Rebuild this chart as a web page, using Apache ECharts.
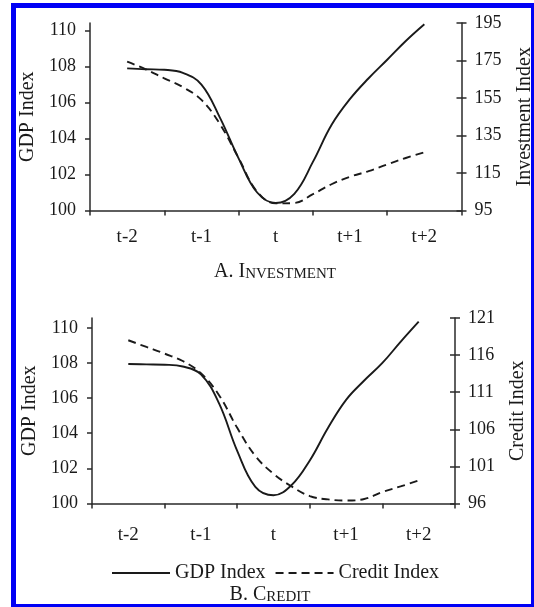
<!DOCTYPE html>
<html>
<head>
<meta charset="utf-8">
<script src="https://cdn.jsdelivr.net/npm/echarts@6/dist/echarts.min.js"></script>
<style>
    body { margin: 0; background: #fff; }
    #wrap { position: relative; width: 534px; height: 607px; }
    #chart { position: absolute; left: 0; top: 0; width: 534px; height: 607px; }
    #frame {
        position: absolute; left: 11px; top: 3px; width: 523px; height: 604px;
        box-sizing: border-box; border: solid #0000f5; border-width: 5px 3px 3px 5px;
        pointer-events: none;
    }
</style>
</head>
<body>
<div id="wrap">
    <div id="chart"></div>
    <div id="frame"></div>
</div>
<script>
const periods = [-2, -1.75, -1.5, -1.25, -1, -0.75, -0.5, -0.25, 0, 0.25, 0.5, 0.75, 1, 1.25, 1.5, 1.75, 2];
const periodLabels = ['t-2', 't-1', 't', 't+1', 't+2'];

// panel A
const gdpA = [107.9, 107.85, 107.82, 107.65, 107.0, 105.15, 102.9, 101.0, 100.42, 100.93, 102.7, 104.75, 106.2, 107.35, 108.38, 109.42, 110.35];
const investment = [174.4, 170.3, 165.5, 160.8, 154, 141, 123, 105, 98.8, 99.0, 103.7, 109.0, 113.0, 116.0, 119.6, 123.0, 126.0];
// panel B
const gdpB = [107.94, 107.92, 107.9, 107.8, 107.35, 105.7, 103.0, 100.95, 100.47, 101.05, 102.45, 104.3, 105.9, 107.0, 108.0, 109.2, 110.35];
const credit = [118.0, 117.1, 116.2, 115.2, 113.55, 110.6, 106.2, 102.4, 100.0, 98.3, 97.0, 96.55, 96.4, 96.6, 97.55, 98.3, 99.1];

const gdpTicks = [100, 102, 104, 106, 108, 110];
const investTicks = [95, 115, 135, 155, 175, 195];
const creditTicks = [96, 101, 106, 111, 116, 121];

const FONT = 'Liberation Serif';
const INK = '#1a1a1a';
const axisLine = { show: true, onZero: false, lineStyle: { color: '#2a2a2a', width: 1.5 } };
const tickLine = { color: '#2a2a2a', width: 1.5 };

const pairs = (vals) => vals.map((v, i) => [periods[i], v]);

function catAxis(grid, margin) {
    return {
        type: 'category', gridIndex: grid, data: periodLabels, boundaryGap: true,
        axisLine: axisLine,
        axisTick: { show: true, length: 5, lineStyle: tickLine },
        axisLabel: { margin: margin, fontFamily: FONT, fontSize: 19, color: INK },
        splitLine: { show: false }
    };
}
function hiddenX(grid) {
    return { type: 'value', gridIndex: grid, min: -2.5, max: 2.5, show: false };
}
function leftAxis(grid, max) {
    return {
        type: 'value', gridIndex: grid, position: 'left', min: 100, max: max,
        name: 'GDP Index', nameLocation: 'middle', nameRotate: 90, nameGap: 52,
        nameTextStyle: { fontFamily: FONT, fontSize: 20, color: INK },
        axisLine: axisLine,
        axisTick: { show: true, length: 5, customValues: gdpTicks, lineStyle: tickLine },
        axisLabel: { margin: 14, customValues: gdpTicks, fontFamily: FONT, fontSize: 18, color: INK },
        splitLine: { show: false }
    };
}
function rightAxis(grid, name, ticks, gap) {
    return {
        type: 'value', gridIndex: grid, position: 'right', min: ticks[0], max: ticks[ticks.length - 1],
        name: name, nameLocation: 'middle', nameRotate: 90, nameGap: gap,
        nameTextStyle: { fontFamily: FONT, fontSize: 20, color: INK },
        axisLine: axisLine,
        axisTick: { show: true, length: 5, customValues: ticks, lineStyle: tickLine },
        axisLabel: { margin: 13, customValues: ticks, fontFamily: FONT, fontSize: 18, color: INK },
        splitLine: { show: false }
    };
}
// second copy of a right axis, only to draw the inner half of its crossing ticks
function rightInner(grid, ticks) {
    return {
        type: 'value', gridIndex: grid, position: 'right', min: ticks[0], max: ticks[ticks.length - 1],
        axisLine: { show: false, onZero: false },
        axisTick: { show: true, inside: true, length: 5, customValues: ticks, lineStyle: tickLine },
        axisLabel: { show: false },
        splitLine: { show: false }
    };
}
function line(name, x, y, vals, dashed) {
    return {
        name: name, type: 'line', xAxisIndex: x, yAxisIndex: y, data: pairs(vals),
        symbol: 'none', smooth: 0.4, silent: true,
        lineStyle: { color: INK, width: 1.9, type: dashed ? [8, 5] : 'solid' },
        itemStyle: { color: INK }
    };
}
function smallCaps(x, y, big, small) {
    return {
        type: 'text', x: x, y: y,
        style: {
            text: '{a|' + big + '}{b|' + small + '}',
            align: 'center', verticalAlign: 'bottom', fill: INK,
            rich: {
                a: { fontFamily: FONT, fontSize: 20, color: INK, verticalAlign: 'bottom' },
                b: { fontFamily: FONT, fontSize: 15, color: INK, verticalAlign: 'bottom' }
            }
        }
    };
}

let chart = echarts.init(document.getElementById('chart'));

const option = {
    animation: false,
    backgroundColor: '#fff',
    grid: [
        { left: 90, top: 23, width: 371.5, height: 187.5, outerBoundsMode: 'none' },
        { left: 92, top: 318, width: 363, height: 185.5, outerBoundsMode: 'none' }
    ],
    xAxis: [catAxis(0, 17), hiddenX(0), catAxis(1, 22), hiddenX(1)],
    yAxis: [
        leftAxis(0, 110.42), rightAxis(0, 'Investment Index', investTicks, 53), rightInner(0, investTicks),
        leftAxis(1, 110.56), rightAxis(1, 'Credit Index', creditTicks, 53), rightInner(1, creditTicks)
    ],
    legend: {
        data: ['GDP Index', 'Credit Index'],
        left: 106, top: 558, itemWidth: 58, itemHeight: 14, itemGap: 9,
        selectedMode: false,
        itemStyle: { opacity: 0 },
        textStyle: { fontFamily: FONT, fontSize: 20, color: INK }
    },
    graphic: [
        smallCaps(275, 282, 'A. I', 'NVESTMENT'),
        smallCaps(270, 605, 'B. C', 'REDIT')
    ],
    series: [
        line('GDP Index', 1, 0, gdpA, false),
        line('Investment Index', 1, 1, investment, true),
        line('GDP Index', 3, 3, gdpB, false),
        line('Credit Index', 3, 4, credit, true)
    ]
};

option && chart.setOption(option);
window.addEventListener('resize', chart.resize);
</script>
</body>
</html>
